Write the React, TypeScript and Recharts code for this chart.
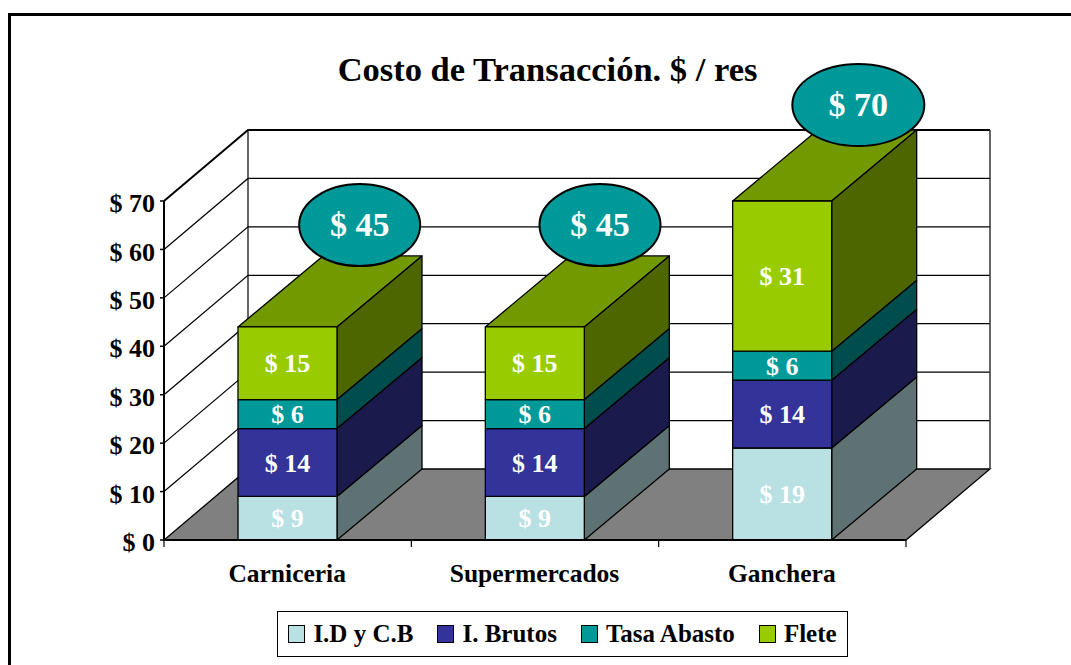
import React from 'react';
import {
  BarChart,
  Bar,
  XAxis,
  YAxis,
  CartesianGrid,
  Legend,
  LabelList,
  ReferenceDot,
} from 'recharts';

const categories = ['Carniceria', 'Supermercados', 'Ganchera'];
const idyCb = [9, 9, 19];
const iBrutos = [14, 14, 14];
const tasaAbasto = [6, 6, 6];
const flete = [15, 15, 31];
const totals = [45, 45, 70];
const yTicks = [0, 10, 20, 30, 40, 50, 60, 70];

const data = categories.map((name, i) => ({
  name,
  idyCb: idyCb[i],
  iBrutos: iBrutos[i],
  tasaAbasto: tasaAbasto[i],
  flete: flete[i],
}));

const FONT = '"Liberation Serif", "Times New Roman", serif';
const DEPTH_X = 84; // fake 3D offset of the back wall
const DEPTH_Y = 71;
const BAR_DX = 85;

// hand placed in the original, so every badge sits a bit differently
const badgeStyle = [
  { dx: 72, dy: -97, rx: 60.5, ry: 41 },
  { dx: 65, dy: -97, rx: 60.5, ry: 41 },
  { dx: 76, dy: -96, rx: 66, ry: 41 },
];

const money = (v: number) => `$ ${v}`;

const Block = (props: any) => {
  const { x, y, width, height, fill, side, top } = props;
  const r = x + width;
  const b = y + height;
  return (
    <g stroke="#000" strokeWidth={1.3} strokeLinejoin="round">
      {top && (
        <polygon
          fill={top}
          points={`${x},${y} ${r},${y} ${r + BAR_DX},${y - DEPTH_Y} ${x + BAR_DX},${y - DEPTH_Y}`}
        />
      )}
      <polygon
        fill={side}
        points={`${r},${y} ${r + BAR_DX},${y - DEPTH_Y} ${r + BAR_DX},${b - DEPTH_Y} ${r},${b}`}
      />
      <rect x={x} y={y} width={width} height={height} fill={fill} />
    </g>
  );
};

// back wall, left wall and floor hang off the horizontal grid lines
const WallLine = (props: any) => {
  const { x1, x2, y1, index } = props;
  const bx = x1 + DEPTH_X;
  const by = y1 - DEPTH_Y;
  const isFloor = y1 > 500;
  const isTop = y1 < 210;
  return (
    <g key={index} fill="none" stroke="#000">
      {isFloor && (
        <polygon
          fill="#808080"
          strokeWidth={1.3}
          points={`${x1},${y1} ${x2},${y1} ${x2 + DEPTH_X},${by} ${bx},${by}`}
        />
      )}
      {!isFloor && (
        <polyline
          strokeWidth={isTop ? 2 : 1.2}
          points={`${x1},${y1} ${bx},${by} ${x2 + DEPTH_X},${by}`}
        />
      )}
      {isTop && (
        <>
          <line x1={bx} y1={by} x2={bx} y2={by + 338} strokeWidth={1.2} />
          <line x1={x2 + DEPTH_X} y1={by} x2={x2 + DEPTH_X} y2={by + 338} stroke="#333" strokeWidth={1.5} />
        </>
      )}
    </g>
  );
};

const CategoryTick = (props: any) => {
  const { x, y, payload, index, width } = props;
  const band = width / categories.length;
  return (
    <g>
      <line x1={x - band / 2} y1={y - 8} x2={x - band / 2} y2={y - 1} stroke="#000" strokeWidth={1.2} />
      {index === categories.length - 1 && (
        <line x1={x + band / 2} y1={y - 8} x2={x + band / 2} y2={y - 1} stroke="#000" strokeWidth={1.2} />
      )}
      <text
        x={x - 0.5}
        y={y + 34}
        textAnchor="middle"
        fontFamily={FONT}
        fontWeight="bold"
        fontSize={25.5}
        fill="#000"
      >
        {payload.value}
      </text>
    </g>
  );
};

const ValueTick = (props: any) => {
  const { x, y, payload } = props;
  return (
    <text
      x={x}
      y={y + 2}
      dy="0.35em"
      textAnchor="end"
      fontFamily={FONT}
      fontWeight="bold"
      fontSize={26}
      fill="#000"
    >
      {money(payload.value)}
    </text>
  );
};

const LegendBox = ({ payload }: any) => (
  <div
    style={{
      boxSizing: 'border-box',
      width: 571,
      height: 46,
      border: '1.5px solid #000',
      background: '#fff',
      display: 'flex',
      alignItems: 'center',
      justifyContent: 'center',
      gap: 24,
      fontFamily: FONT,
      fontWeight: 'bold',
      fontSize: 25,
      color: '#000',
    }}
  >
    {(payload || []).map((item: any) => (
      <div key={item.value} style={{ display: 'flex', alignItems: 'center', gap: 8 }}>
        <span
          style={{
            boxSizing: 'border-box',
            width: 17,
            height: 18,
            background: item.color,
            border: '1.5px solid #000',
          }}
        />
        <span>{item.value}</span>
      </div>
    ))}
  </div>
);

const segmentLabel = (key: string) => (
  <LabelList
    dataKey={key}
    position="center"
    formatter={money as any}
    fill="#fff"
    fontFamily={FONT}
    fontWeight="bold"
    fontSize={26}
  />
);

const App = () => (
  <div
    style={{
      position: 'absolute',
      left: 0,
      top: 0,
      width: 1071,
      height: 665,
      overflow: 'hidden',
      background: '#fff',
    }}
  >
    <div
      style={{
        position: 'absolute',
        left: 8,
        top: 13,
        width: 1100,
        height: 700,
        border: '3px solid #000',
      }}
    />
    <div style={{ position: 'absolute', left: 0, top: 0 }}>
      <BarChart
        width={1071}
        height={665}
        data={data}
        margin={{ top: 201, right: 165, bottom: 65, left: 104 }}
        barSize={99}
      >
        <text
          x={547.5}
          y={81}
          textAnchor="middle"
          fontFamily={FONT}
          fontWeight="bold"
          fontSize={34.5}
          fill="#000"
        >
          Costo de Transacción. $ / res
        </text>
        <CartesianGrid vertical={false} horizontal={WallLine as any} />
        <XAxis
          dataKey="name"
          height={60}
          axisLine={{ stroke: '#000', strokeWidth: 2 }}
          tickLine={false}
          tick={CategoryTick as any}
          interval={0}
        />
        <YAxis
          width={60}
          domain={[0, 70]}
          ticks={yTicks}
          interval={0}
          axisLine={{ stroke: '#000', strokeWidth: 2 }}
          tickLine={{ stroke: '#000', strokeWidth: 1.5 }}
          tickSize={4}
          tickMargin={5}
          tick={ValueTick as any}
        />
        <Legend
          layout="horizontal"
          align="center"
          verticalAlign="middle"
          itemSorter={null}
          wrapperStyle={{ left: 277, top: 611, width: 571, height: 46 }}
          content={LegendBox as any}
        />
        <Bar
          dataKey="idyCb"
          name="I.D y C.B"
          stackId="a"
          fill="#B9E0E3"
          isAnimationActive={false}
          shape={(p: any) => <Block {...p} side="#5E7173" />}
        >
          {segmentLabel('idyCb')}
        </Bar>
        <Bar
          dataKey="iBrutos"
          name="I. Brutos"
          stackId="a"
          fill="#333399"
          isAnimationActive={false}
          shape={(p: any) => <Block {...p} side="#1A1A4D" />}
        >
          {segmentLabel('iBrutos')}
        </Bar>
        <Bar
          dataKey="tasaAbasto"
          name="Tasa Abasto"
          stackId="a"
          fill="#009999"
          isAnimationActive={false}
          shape={(p: any) => <Block {...p} side="#004D4D" />}
        >
          {segmentLabel('tasaAbasto')}
        </Bar>
        <Bar
          dataKey="flete"
          name="Flete"
          stackId="a"
          fill="#99CC00"
          isAnimationActive={false}
          shape={(p: any) => <Block {...p} side="#4D6600" top="#739900" />}
        >
          {segmentLabel('flete')}
        </Bar>
        {categories.map((name, i) => (
          <ReferenceDot
            key={name}
            x={name}
            y={totals[i]}
            shape={(p: any) => {
              const s = badgeStyle[i];
              const cx = p.cx + s.dx;
              const cy = p.cy + s.dy;
              return (
                <g>
                  <ellipse cx={cx} cy={cy} rx={s.rx} ry={s.ry} fill="#009999" stroke="#000" strokeWidth={2} />
                  <text
                    x={cx}
                    y={cy}
                    dy="0.32em"
                    textAnchor="middle"
                    fontFamily={FONT}
                    fontWeight="bold"
                    fontSize={34}
                    fill="#fff"
                  >
                    {money(totals[i])}
                  </text>
                </g>
              );
            }}
          />
        ))}
      </BarChart>
    </div>
  </div>
);

export default App;
